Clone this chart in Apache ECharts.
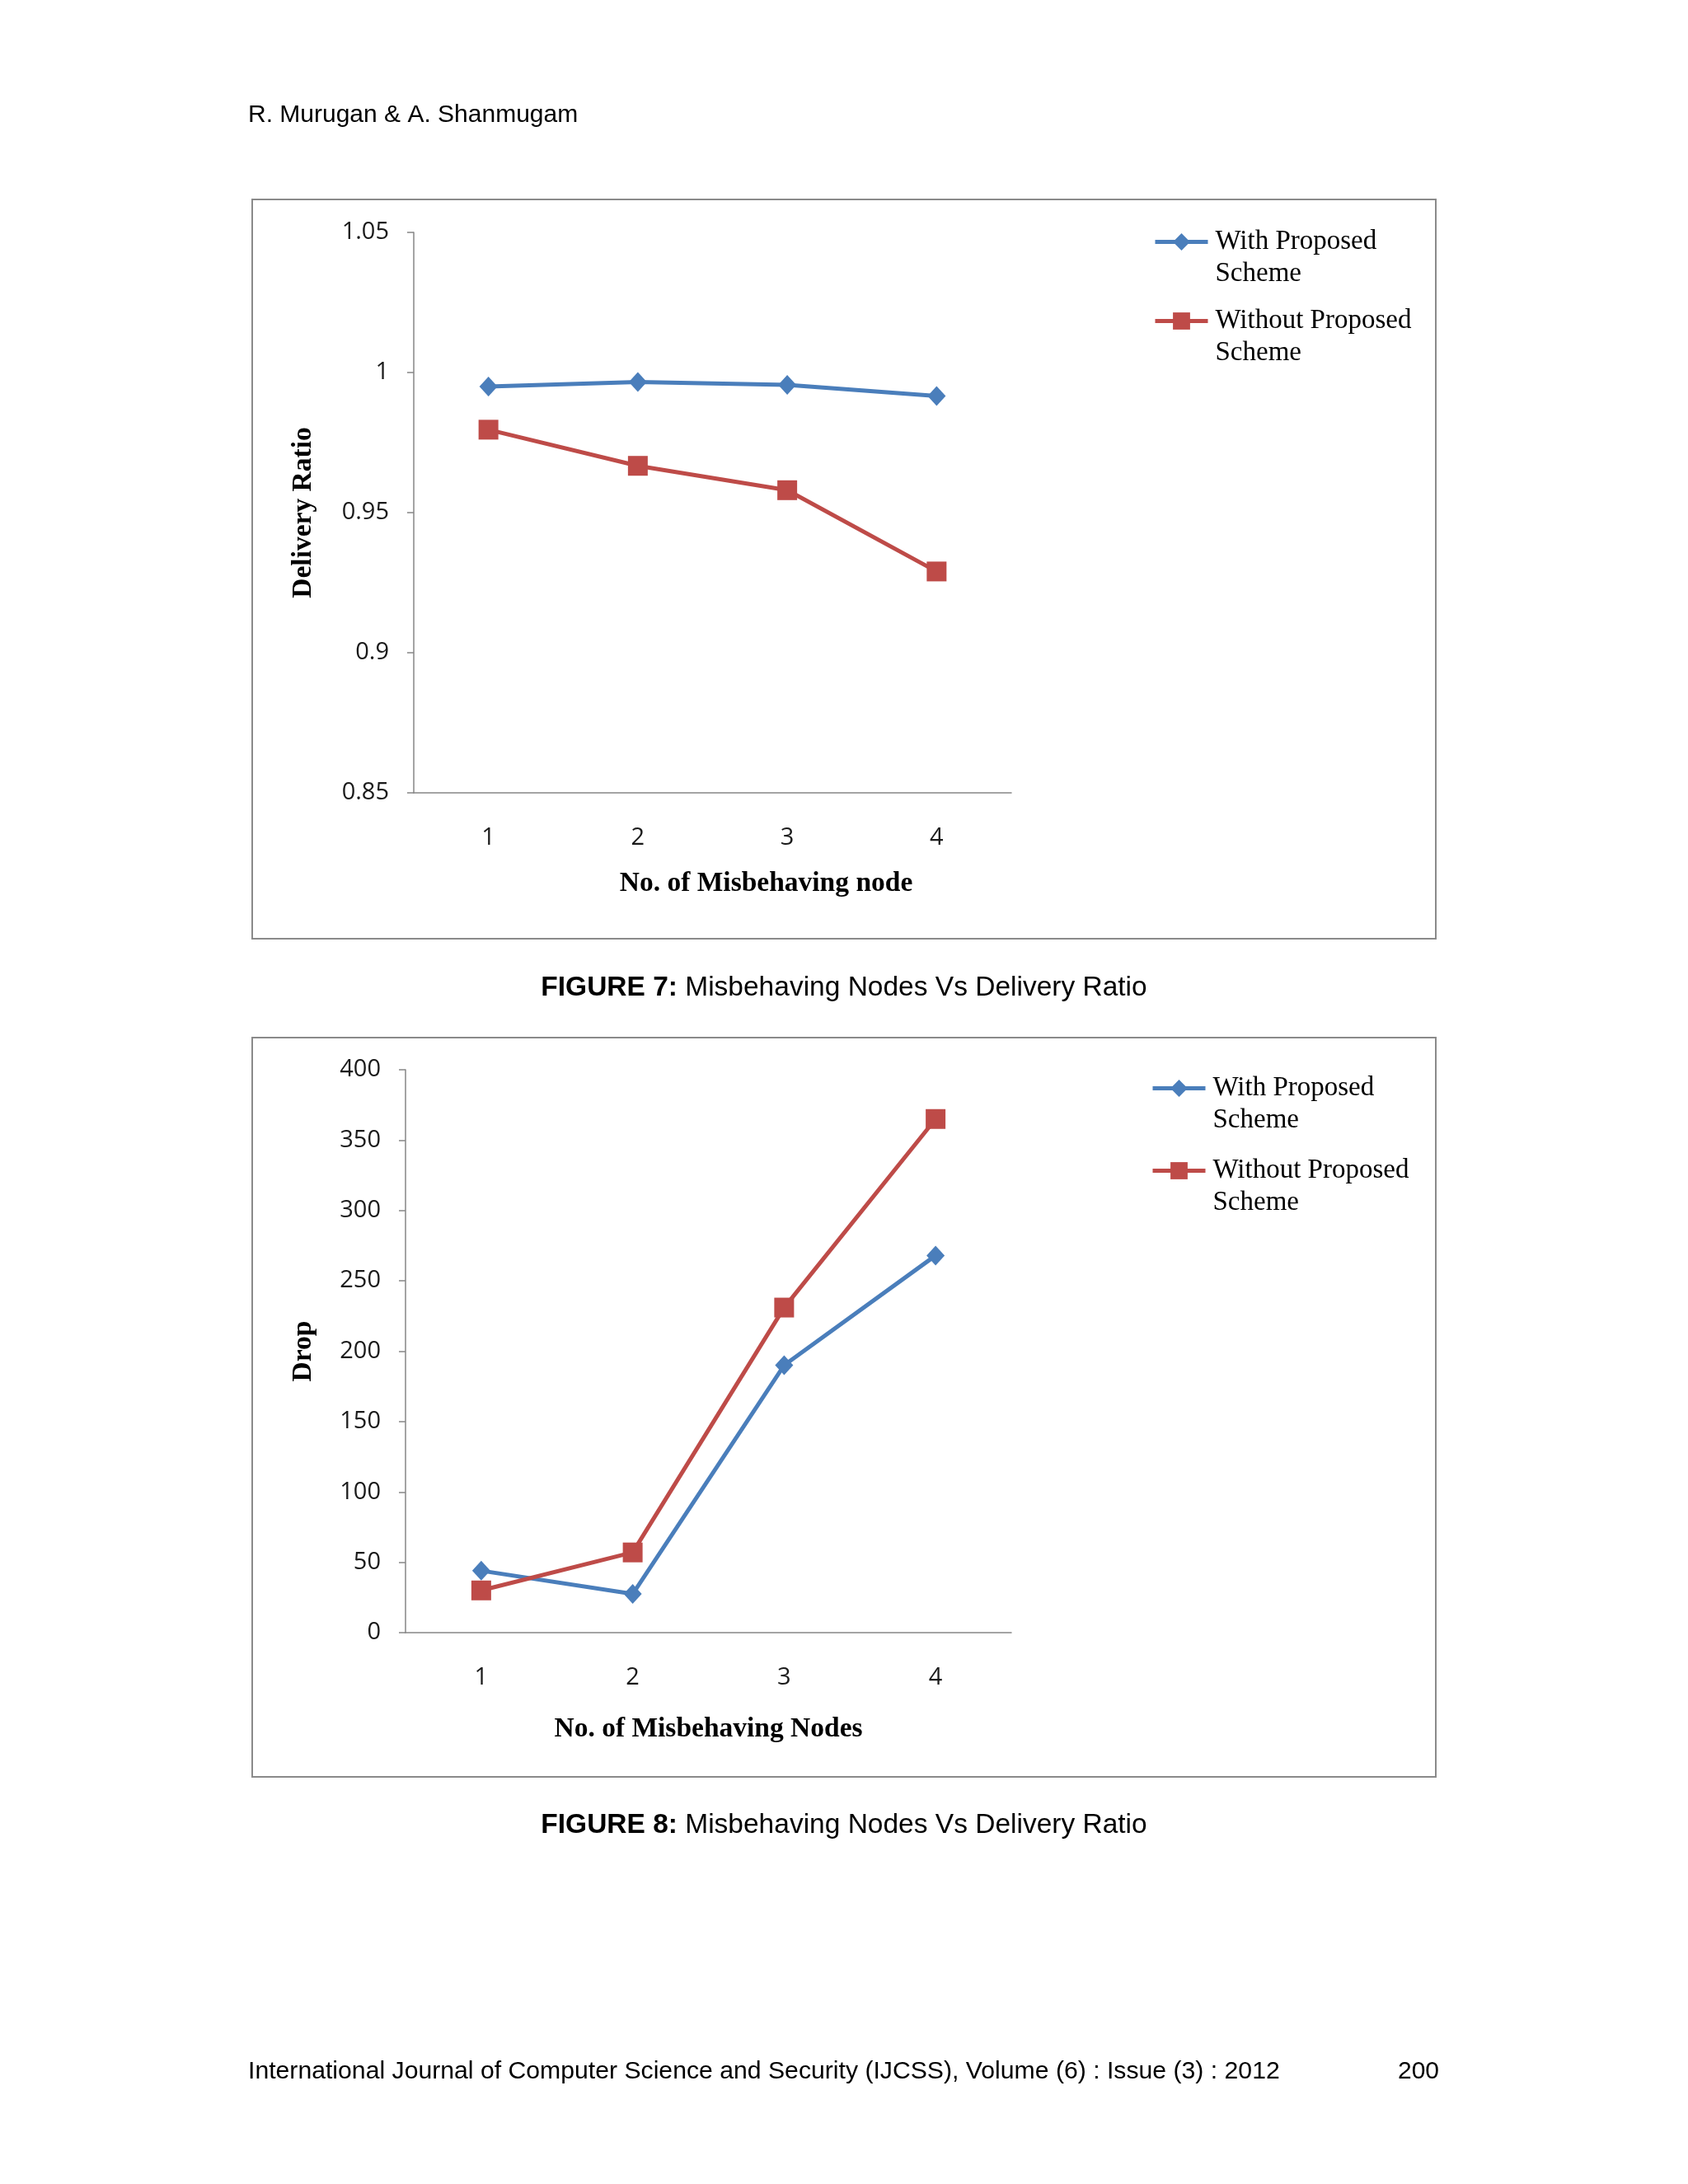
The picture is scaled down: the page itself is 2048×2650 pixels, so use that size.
<html style="height: 100%">
<meta http-equiv=Content-Type content="text/html;charset=utf-8" />
<script type="text/javascript" src="https://cdn.jsdelivr.net/npm/echarts@6/dist/echarts.min.js"></script>
<body style="height: 100%; margin: 0; background: #fff">
<div id="echart" style="width: 2048px; height: 2650px"></div>

<script type="text/javascript">
	// categories (No. of misbehaving nodes)
	var nodes = ["1", "2", "3", "4"];
	var seriesNames = ["With Proposed Scheme", "Without Proposed Scheme"];

	// figure 7 : delivery ratio
	var ratioWith = [0.995, 0.9966, 0.9956, 0.9916];
	var ratioWithout = [0.9796, 0.9667, 0.958, 0.929];
	var ratioTicks = {min: 0.85, max: 1.05, interval: 0.05};

	// figure 8 : drop
	var dropWith = [44, 27.5, 190, 268];
	var dropWithout = [30, 57, 231, 365];
	var dropTicks = {min: 0, max: 400, interval: 50};

	var blue = "#4a7ebb";
	var red = "#be4b48";
	var tickFont = "'Open Sans', sans-serif";
	var serif = "'Liberation Serif', 'Times New Roman', serif";
	var sans = "'Liberation Sans', Arial, sans-serif";

	function makeLegend(name, left, top) {
		return {
			data: [name],
			left: left,
			top: top,
			padding: 0,
			itemWidth: 64,
			itemHeight: 26,
			lineStyle: {width: 5},
			textStyle: {
				fontFamily: serif,
				fontSize: 33,
				color: "#000",
				lineHeight: 39,
				padding: [0, 0, 0, 4]
			},
			// empty first line keeps the icon level with the first text line
			formatter: function (n) {
				return "\n" + n.replace(" Scheme", "\nScheme");
			}
		};
	}

	function yAxisOf(idx, ticks, name, gap) {
		return {
			gridIndex: idx,
			type: "value",
			min: ticks.min,
			max: ticks.max,
			interval: ticks.interval,
			name: name,
			nameLocation: "middle",
			nameRotate: 90,
			nameGap: gap,
			nameTextStyle: {fontFamily: serif, fontWeight: "bold", fontSize: 33.5, color: "#000"},
			axisLine: {show: true, lineStyle: {color: "#868686", width: 1.5}},
			axisTick: {show: true, length: 8, lineStyle: {color: "#868686", width: 1.5}},
			axisLabel: {margin: 30, fontFamily: tickFont, fontSize: 29, color: "#1a1a1a"},
			splitLine: {show: false}
		};
	}

	function xAxisOf(idx, name, gap, shift) {
		return {
			gridIndex: idx,
			type: "category",
			data: nodes,
			name: name,
			nameLocation: "middle",
			nameGap: gap,
			nameTextStyle: {fontFamily: serif, fontWeight: "bold", fontSize: 33.5, color: "#000", padding: [0, 0, 0, shift]},
			axisLine: {show: true, lineStyle: {color: "#868686", width: 1.5}},
			axisTick: {show: false},
			axisLabel: {margin: 40, fontFamily: tickFont, fontSize: 29, color: "#1a1a1a"}
		};
	}

	function lineSerie(name, data, idx, color, symbol, size) {
		return {
			name: name,
			type: "line",
			xAxisIndex: idx,
			yAxisIndex: idx,
			data: data,
			symbol: symbol,
			symbolSize: size,
			lineStyle: {color: color, width: 5},
			itemStyle: {color: color},
			animation: false
		};
	}

	var myChart = echarts.init(document.getElementById("echart"));

	myChart.setOption({
		animation: false,
		grid: [
			{left: 502, right: 821, top: 282, bottom: 1688},
			{left: 492, right: 821, top: 1298, bottom: 669}
		],
		legend: [
			makeLegend(seriesNames[0], 1399, 235),
			makeLegend(seriesNames[1], 1399, 331),
			makeLegend(seriesNames[0], 1396, 1262),
			makeLegend(seriesNames[1], 1396, 1362)
		],
		xAxis: [
			xAxisOf(0, "No. of Misbehaving node", 93, 130),
			xAxisOf(1, "No. of Misbehaving Nodes", 100, 0)
		],
		yAxis: [
			yAxisOf(0, ratioTicks, "Delivery Ratio", 117),
			yAxisOf(1, dropTicks, "Drop", 107)
		],
		series: [
			lineSerie(seriesNames[0], ratioWith, 0, blue, "diamond", [22, 24]),
			lineSerie(seriesNames[1], ratioWithout, 0, red, "rect", 24),
			lineSerie(seriesNames[0], dropWith, 1, blue, "diamond", [22, 24]),
			lineSerie(seriesNames[1], dropWithout, 1, red, "rect", 24)
		],
		graphic: [
			// chart frames
			{type: "rect", shape: {x: 306, y: 242, width: 1436, height: 897}, style: {fill: null, stroke: "#8a8a8a", lineWidth: 2}, z: -1},
			{type: "rect", shape: {x: 306, y: 1259, width: 1436, height: 897}, style: {fill: null, stroke: "#8a8a8a", lineWidth: 2}, z: -1},
			// page header / footer
			{type: "text", left: 301, top: 125, style: {text: "R. Murugan & A. Shanmugam", fontFamily: sans, fontSize: 30, fill: "#000"}},
			{type: "text", left: 301, top: 2499, style: {text: "International Journal of Computer Science and Security (IJCSS), Volume (6) : Issue (3) : 2012", fontFamily: sans, fontSize: 30.2, fill: "#000"}},
			{type: "text", right: 302, top: 2499, style: {text: "200", fontFamily: sans, fontSize: 30, fill: "#000"}},
			// captions
			{type: "text", left: "center", top: 1182, style: {
				text: "{b|FIGURE 7:} Misbehaving Nodes Vs Delivery Ratio",
				fontFamily: sans, fontSize: 33.5, fill: "#000",
				rich: {b: {fontFamily: sans, fontSize: 33.5, fontWeight: "bold"}}
			}},
			{type: "text", left: "center", top: 2198, style: {
				text: "{b|FIGURE 8:} Misbehaving Nodes Vs Delivery Ratio",
				fontFamily: sans, fontSize: 33.5, fill: "#000",
				rich: {b: {fontFamily: sans, fontSize: 33.5, fontWeight: "bold"}}
			}}
		]
	});
</script>
</body>
</html>
